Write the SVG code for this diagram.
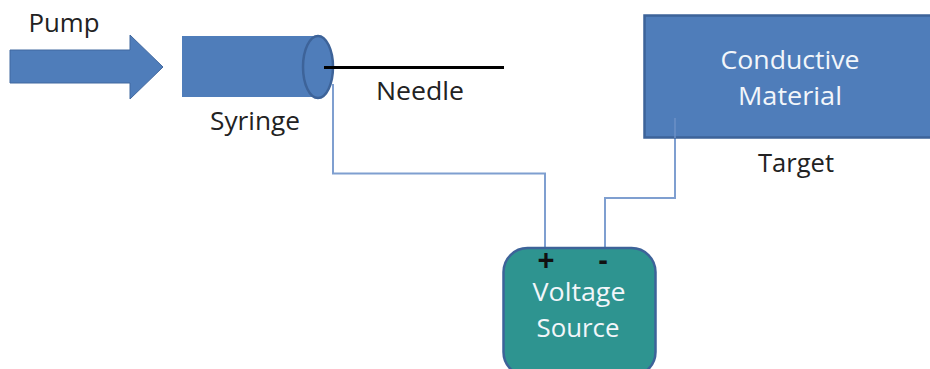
<svg xmlns="http://www.w3.org/2000/svg" width="930" height="369" viewBox="0 0 930 369">
<style>
text{font-family:"Open Sans","Noto Sans","Liberation Sans",sans-serif;font-size:26px;text-anchor:middle}
.d{fill:#222}
.w{fill:#f2f6fa}
.b{font-family:"Liberation Sans",sans-serif;font-weight:bold;fill:#111;font-size:29px}
.wire{fill:none;stroke:#7f9fd0;stroke-width:2}
</style>
<rect width="930" height="369" fill="#fff"/>
<g id="connectors">
<path class="wire" d="M333 84V173.500H545V248"/>
<path class="wire" d="M605 248V198H675V138"/>
</g>
<g id="pump">
<path d="M10 50H130V35L163 67L130 99V83H10Z" fill="#4f7dba" stroke="#41689f" stroke-width="1"/>
<text class="d" x="64" y="32" textLength="71" lengthAdjust="spacingAndGlyphs">Pump</text>
</g>
<g id="syringe">
<rect x="182" y="36" width="136" height="61" fill="#4f7dba"/>
<ellipse cx="318" cy="67" rx="15" ry="31" fill="#4f7dba" stroke="#3d6399" stroke-width="2.500"/>
<text class="d" x="255" y="130" textLength="90" lengthAdjust="spacingAndGlyphs">Syringe</text>
</g>
<g id="needle">
<line x1="324" y1="67.500" x2="504" y2="67.500" stroke="#000" stroke-width="3"/>
<text class="d" x="420" y="100" textLength="88" lengthAdjust="spacingAndGlyphs">Needle</text>
</g>
<g id="target">
<rect x="644.500" y="15.500" width="290" height="122" fill="#4f7dba" stroke="#3d6399" stroke-width="2.500"/>
<line x1="675" y1="118" x2="675" y2="138" stroke="#6b90c6" stroke-width="1.500"/>
<text class="w" x="790" y="69" textLength="139" lengthAdjust="spacingAndGlyphs">Conductive</text>
<text class="w" x="790" y="105" textLength="104" lengthAdjust="spacingAndGlyphs">Material</text>
<text class="d" x="796" y="172" textLength="76" lengthAdjust="spacingAndGlyphs">Target</text>
</g>
<g id="voltage-source">
<rect x="503.500" y="248" width="152" height="128" rx="24" fill="#2e9490" stroke="#3d6399" stroke-width="2.500"/>
<text class="w" x="579" y="301" textLength="93" lengthAdjust="spacingAndGlyphs">Voltage</text>
<text class="w" x="578" y="337" textLength="83" lengthAdjust="spacingAndGlyphs">Source</text>
<text class="b" x="546" y="270">+</text>
<text class="b" x="603" y="270">-</text>
</g>
</svg>
